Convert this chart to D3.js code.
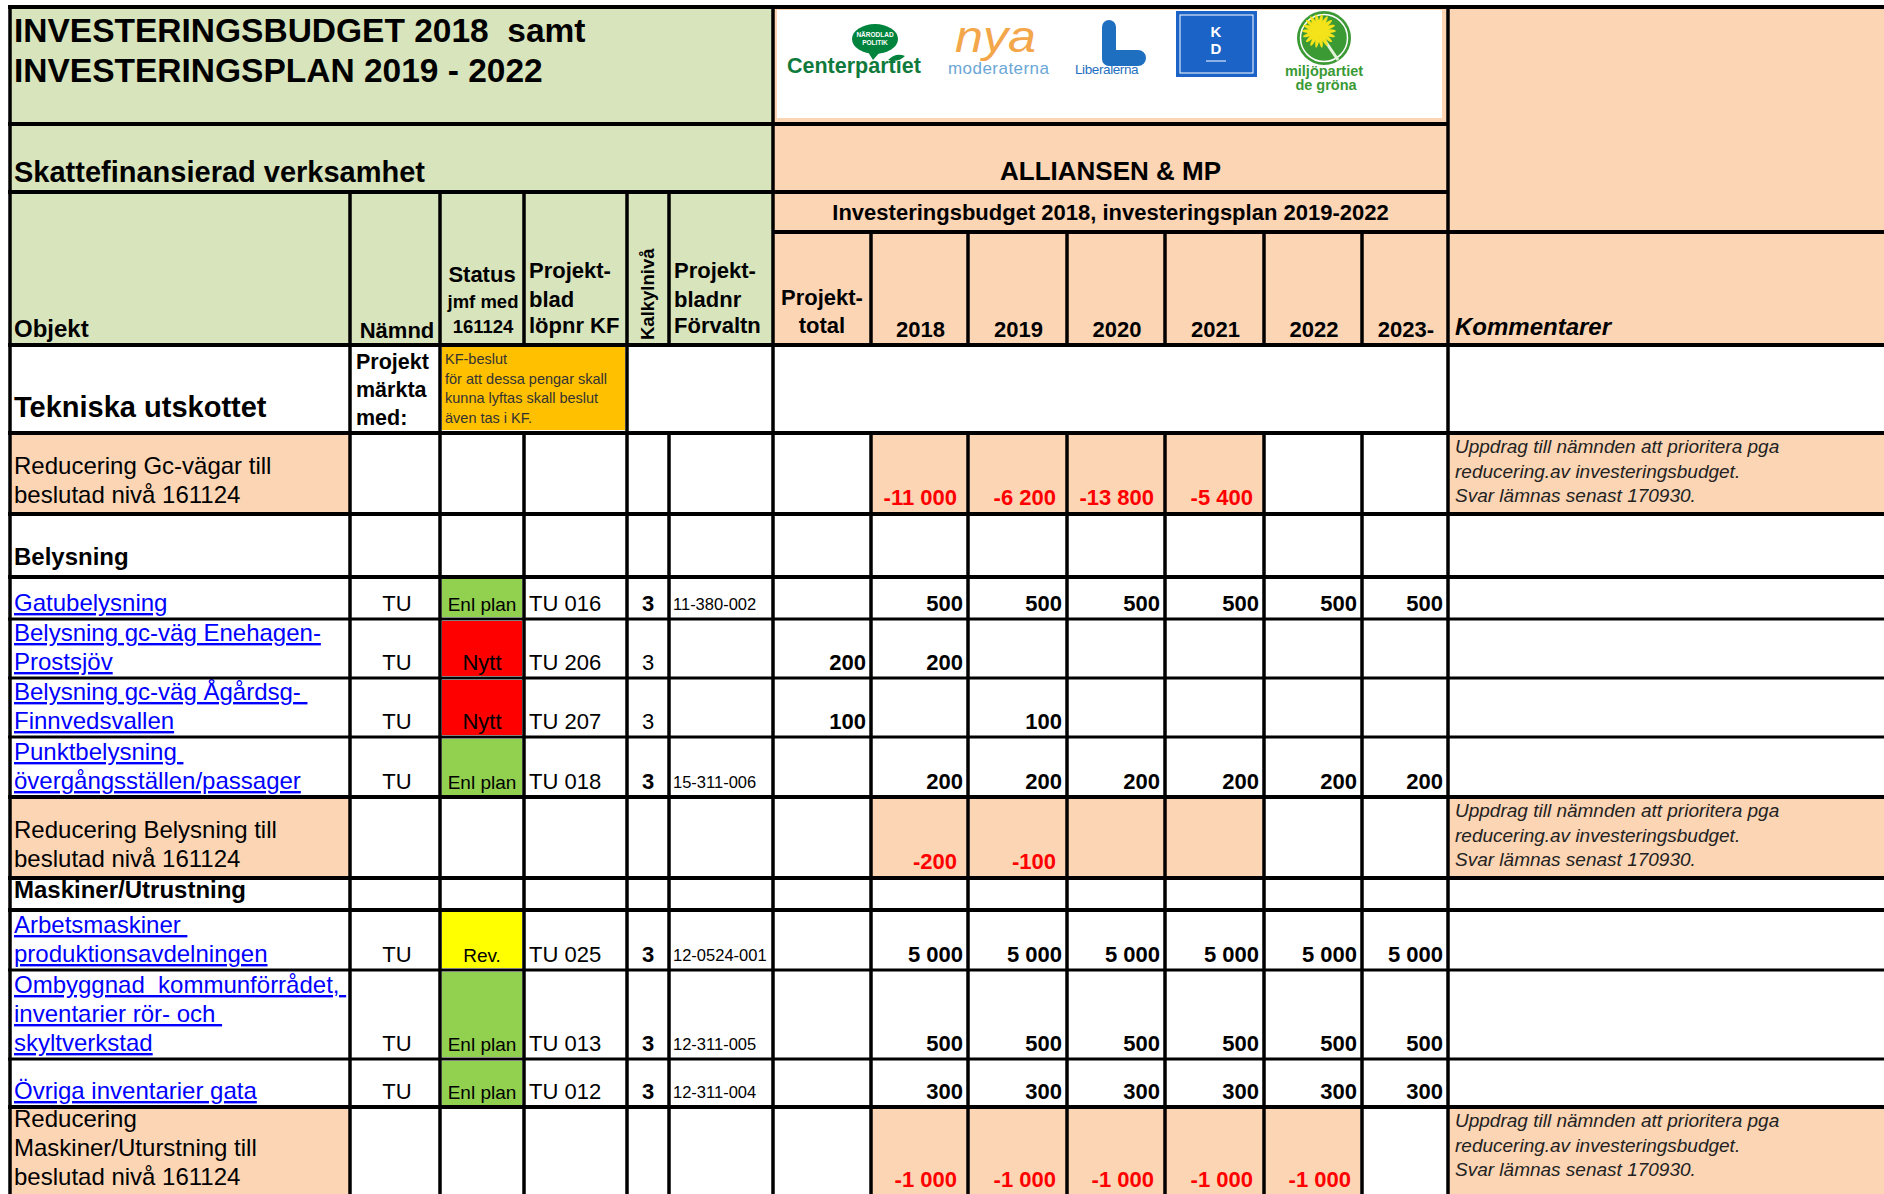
<!DOCTYPE html>
<html>
<head>
<meta charset="utf-8">
<style>
  body { margin: 0; background: #fff; }
  svg text { font-family: "Liberation Sans", Arial, sans-serif; white-space: pre; }
</style>
</head>
<body>
<script src="https://d3js.org/d3.v7.min.js"></script>
<script>
// ---- values ----
var years = ["2018", "2019", "2020", "2021", "2022", "2023-"];

var rowKind = ["utskott", "reduktion", "rubrik", "projekt", "projekt", "projekt", "projekt",
               "reduktion", "rubrik", "projekt", "projekt", "projekt", "reduktion"];

var objekt = [
  ["Tekniska utskottet"],
  ["Reducering Gc-vägar till", "beslutad nivå 161124"],
  ["Belysning"],
  ["Gatubelysning"],
  ["Belysning gc-väg Enehagen-", "Prostsjöv"],
  ["Belysning gc-väg Ågårdsg- ", "Finnvedsvallen"],
  ["Punktbelysning ", "övergångsställen/passager"],
  ["Reducering Belysning till", "beslutad nivå 161124"],
  ["Maskiner/Utrustning"],
  ["Arbetsmaskiner ", "produktionsavdelningen"],
  ["Ombyggnad  kommunförrådet, ", "inventarier rör- och ", "skyltverkstad"],
  ["Övriga inventarier gata"],
  ["Reducering", "Maskiner/Uturstning till", "beslutad nivå 161124"]
];

var namnd      = ["", "", "", "TU", "TU", "TU", "TU", "", "", "TU", "TU", "TU", ""];
var statusText = [null, null, null, "Enl plan", "Nytt", "Nytt", "Enl plan", null, null, "Rev.", "Enl plan", "Enl plan", null];
var bladLopnr  = ["", "", "", "TU 016", "TU 206", "TU 207", "TU 018", "", "", "TU 025", "TU 013", "TU 012", ""];
var kalkyl     = [null, null, null, 3, 3, 3, 3, null, null, 3, 3, 3, null];
var kalkylFet  = [false, false, false, true, false, false, true, false, false, true, true, true, false];
var bladnr     = ["", "", "", "11-380-002", "", "", "15-311-006", "", "", "12-0524-001", "12-311-005", "12-311-004", ""];
var projekttotal = [null, null, null, null, 200, 100, null, null, null, null, null, null, null];

var v2018 = [null, -11000, null, 500, 200, null, 200, -200, null, 5000, 500, 300, -1000];
var v2019 = [null, -6200, null, 500, null, 100, 200, -100, null, 5000, 500, 300, -1000];
var v2020 = [null, -13800, null, 500, null, null, 200, null, null, 5000, 500, 300, -1000];
var v2021 = [null, -5400, null, 500, null, null, 200, null, null, 5000, 500, 300, -1000];
var v2022 = [null, null, null, 500, null, null, 200, null, null, 5000, 500, 300, -1000];
var v2023 = [null, null, null, 500, null, null, 200, null, null, 5000, 500, 300, null];
var yearValues = [v2018, v2019, v2020, v2021, v2022, v2023];

// how many year cells are shaded on a reduction row
var reduktionSpan = [0, 4, 0, 0, 0, 0, 0, 4, 0, 0, 0, 0, 5];

var kommentar = ["Uppdrag till nämnden att prioritera pga", "reducering.av investeringsbudget.", "Svar lämnas senast 170930."];
var kfNote = ["KF-beslut", "för att dessa pengar skall", "kunna lyftas skall beslut", "även tas i KF."];

// ---- sheet layout ----
var W = 1884, H = 1194;
var GREEN = "#d8e4bc", PEACH = "#fcd5b4";
var statusColor = {"Enl plan": "#92d050", "Nytt": "#ff0000", "Rev.": "#ffff00"};
var statusSize = {"Enl plan": 19, "Nytt": 22, "Rev.": 19};

var colKeys = ["objekt", "namnd", "status", "blad", "kalkyl", "bladnr", "total"].concat(years).concat(["komm"]);
var colEdges = [10, 350, 440, 524, 627, 669, 773, 871, 968, 1067, 1165, 1264, 1362, 1448, 1884];
var colX = d3.scaleOrdinal(colKeys, colEdges.slice(0, -1));
var colR = d3.scaleOrdinal(colKeys, colEdges.slice(1));
var colMid = function(k) { return (colX(k) + colR(k)) / 2; };

var rowIdx = d3.range(objekt.length);
var rowEdges = [345, 433, 514, 577, 619, 678, 737, 797, 878, 910, 970, 1059, 1107, 1196];
var rowTop = d3.scaleOrdinal(rowIdx, rowEdges.slice(0, -1));
var rowBot = d3.scaleOrdinal(rowIdx, rowEdges.slice(1));

var locale = d3.formatLocale({decimal: ",", thousands: " ", grouping: [3], currency: ["", ""], minus: "-"});
var fmt = locale.format(",d");

var svg = d3.select("body").append("svg")
    .attr("width", W).attr("height", H).style("display", "block");

svg.append("rect").attr("width", W).attr("height", H).attr("fill", "#fff");

function label(x, y, s, o) {
  o = o || {};
  return svg.append("text")
    .attr("x", x).attr("y", y)
    .attr("font-size", o.size || 22)
    .attr("font-weight", o.bold ? "bold" : null)
    .attr("font-style", o.italic ? "italic" : null)
    .attr("text-anchor", o.anchor || "start")
    .attr("fill", o.fill || "#000")
    .attr("text-decoration", o.underline ? "underline" : null)
    .text(s);
}
function box(x1, y1, x2, y2, fill) {
  svg.append("rect").attr("x", x1).attr("y", y1).attr("width", x2 - x1).attr("height", y2 - y1).attr("fill", fill);
}

// ---- header backgrounds ----
box(10, 7, colX("total"), 345, GREEN);
box(colX("total"), 7, W, 345, PEACH);
box(777, 10, 1442, 118, "#fff");

// title block
label(14, 42, "INVESTERINGSBUDGET 2018  samt", {size: 33.5, bold: true});
label(14, 82, "INVESTERINGSPLAN 2019 - 2022", {size: 33.5, bold: true});
label(14, 182, "Skattefinansierad verksamhet", {size: 29, bold: true});

var rightMid = (colX("total") + colX("komm")) / 2;
label(rightMid, 180, "ALLIANSEN & MP", {size: 26, bold: true, anchor: "middle"});
label(rightMid, 220, "Investeringsbudget 2018, investeringsplan 2019-2022", {size: 22, bold: true, anchor: "middle"});

// column headers
label(14, 337, "Objekt", {size: 24, bold: true});
label(colMid("namnd") + 2, 338, "Nämnd", {size: 22, bold: true, anchor: "middle"});
label(colMid("status"), 282, "Status", {size: 22, bold: true, anchor: "middle"});
label(colMid("status") + 1, 308, "jmf med", {size: 18.5, bold: true, anchor: "middle"});
label(colMid("status") + 1, 333, "161124", {size: 18.5, bold: true, anchor: "middle"});
["Projekt-", "blad", "löpnr KF"].forEach(function(s, i) {
  label(colX("blad") + 5, [278, 307, 333][i], s, {size: 22, bold: true});
});
["Projekt-", "bladnr", "Förvaltn"].forEach(function(s, i) {
  label(colX("bladnr") + 5, [278, 307, 333][i], s, {size: 22, bold: true});
});
svg.append("text")
  .attr("transform", "translate(" + (colX("kalkyl") + 27) + ",340) rotate(-90)")
  .attr("font-size", 18.5).attr("font-weight", "bold").text("Kalkylnivå");
label(colMid("total"), 305, "Projekt-", {size: 22, bold: true, anchor: "middle"});
label(colMid("total"), 333, "total", {size: 22, bold: true, anchor: "middle"});
years.forEach(function(y) {
  label(colMid(y) + 1, 337, y, {size: 22, bold: true, anchor: "middle"});
});
label(colX("komm") + 7, 335, "Kommentarer", {size: 24, bold: true, italic: true});

// ---- party logos ----
var logo = svg.append("g");
// Centerpartiet
logo.append("ellipse").attr("cx", 875).attr("cy", 39).attr("rx", 23).attr("ry", 15).attr("fill", "#00843d");
logo.append("path").attr("d", "M868,52 L873,60 L880,52 Z").attr("fill", "#00843d");
logo.append("path").attr("d", "M888,60 Q896,52 905,56 Q898,63 888,60 Z").attr("fill", "#00843d");
logo.append("text").attr("x", 875).attr("y", 37).attr("text-anchor", "middle").attr("font-size", 6.5)
  .attr("font-weight", "bold").attr("fill", "#fff").text("NÄRODLAD");
logo.append("text").attr("x", 875).attr("y", 45).attr("text-anchor", "middle").attr("font-size", 6.5)
  .attr("font-weight", "bold").attr("fill", "#fff").text("POLITIK");
logo.append("text").attr("x", 787).attr("y", 73).attr("font-size", 21.5).attr("font-weight", "bold")
  .attr("fill", "#0f7a3c").text("Centerpartiet");
// Moderaterna
logo.append("text").attr("x", 955).attr("y", 52).attr("font-size", 44).attr("font-style", "italic")
  .attr("textLength", 81).attr("lengthAdjust", "spacingAndGlyphs")
  .attr("font-family", "Liberation Serif, serif").attr("fill", "#f3a64a").text("nya");
logo.append("text").attr("x", 948).attr("y", 74).attr("font-size", 17).attr("textLength", 101)
  .attr("font-family", "Liberation Serif, serif").attr("fill", "#6aa6d6").text("moderaterna");
// Liberalerna
logo.append("path")
  .attr("d", "M1109,20 a7,7 0 0 1 7,7 V50 H1138 a8,8 0 0 1 0,16 H1109 a7,7 0 0 1 -7,-7 V27 a7,7 0 0 1 7,-7 Z")
  .attr("fill", "#1f6fc0");
logo.append("text").attr("x", 1075).attr("y", 74).attr("font-size", 13.5).attr("letter-spacing", -0.4)
  .attr("fill", "#1f6fc0").text("Liberalerna");
// KD
logo.append("rect").attr("x", 1176).attr("y", 11).attr("width", 81).attr("height", 66).attr("fill", "#1b63c6");
logo.append("rect").attr("x", 1180).attr("y", 15).attr("width", 73).attr("height", 58).attr("fill", "none")
  .attr("stroke", "#fff").attr("stroke-width", 1);
logo.append("text").attr("x", 1216).attr("y", 37).attr("text-anchor", "middle").attr("font-size", 15)
  .attr("font-weight", "bold").attr("fill", "#fff").text("K");
logo.append("text").attr("x", 1216).attr("y", 54).attr("text-anchor", "middle").attr("font-size", 15)
  .attr("font-weight", "bold").attr("fill", "#fff").text("D");
logo.append("line").attr("x1", 1206).attr("x2", 1226).attr("y1", 61).attr("y2", 61).attr("stroke", "#fff");
// Miljöpartiet
var mpX = 1324, mpY = 38;
logo.append("circle").attr("cx", mpX).attr("cy", mpY).attr("r", 27).attr("fill", "#3c9a34");
logo.append("circle").attr("cx", mpX).attr("cy", mpY).attr("r", 23.5).attr("fill", "none")
  .attr("stroke", "#fff").attr("stroke-width", 1.5);
logo.append("path").attr("d", "M" + (mpX - 3) + "," + (mpY - 3) + " Q" + (mpX + 6) + "," + (mpY + 10) + " " + (mpX + 14) + "," + (mpY + 22))
  .attr("fill", "none").attr("stroke", "#e4f3d8").attr("stroke-width", 3);
d3.range(0, 360, 20).forEach(function(a) {
  logo.append("ellipse").attr("cx", mpX - 5).attr("cy", mpY - 7).attr("rx", 10).attr("ry", 2)
    .attr("transform", "rotate(" + a + "," + (mpX - 5) + "," + (mpY - 7) + ") translate(7,0)").attr("fill", "#f4e21a");
});
logo.append("circle").attr("cx", mpX - 5).attr("cy", mpY - 7).attr("r", 4.5).attr("fill", "#f4e21a");
logo.append("text").attr("x", mpX).attr("y", 76).attr("text-anchor", "middle").attr("font-size", 14.5)
  .attr("font-weight", "bold").attr("fill", "#3a9a35").text("miljöpartiet");
logo.append("text").attr("x", mpX + 2).attr("y", 90).attr("text-anchor", "middle").attr("font-size", 14.5)
  .attr("font-weight", "bold").attr("fill", "#3a9a35").text("de gröna");

// ---- body rows ----
rowIdx.forEach(function(i) {
  var top = rowTop(i), bot = rowBot(i), kind = rowKind[i];

  if (kind === "utskott") {
    label(14, bot - 16, objekt[i][0], {size: 29, bold: true});
    ["Projekt", "märkta", "med:"].forEach(function(s, j) {
      label(colX("namnd") + 6, top + 24 + j * 28, s, {size: 21.5, bold: true});
    });
    box(colX("status") + 2, top + 2, colX("kalkyl") - 2, bot - 3, "#ffc000");
    kfNote.forEach(function(s, j) {
      label(colX("status") + 5, top + 19 + j * 19.5, s, {size: 14.5, fill: "#333"});
    });
    return;
  }

  if (kind === "reduktion") {
    box(colX("objekt"), top, colR("objekt"), bot, PEACH);
    years.slice(0, reduktionSpan[i]).forEach(function(y) { box(colX(y), top, colR(y), bot, PEACH); });
    box(colX("komm"), top, colR("komm"), bot, PEACH);
    kommentar.forEach(function(s, j) {
      label(colX("komm") + 7, top + 20 + j * 24.5, s, {size: 19, italic: true, fill: "#222"});
    });
  }

  var st = statusText[i];
  if (st) box(colX("status") + 2, top + 2, colR("status") - 2, bot - 2, statusColor[st]);

  var off = kind === "projekt" ? 8 : 11;
  var lines = objekt[i];
  lines.forEach(function(s, j) {
    var y = bot - off - (lines.length - 1 - j) * 29;
    if (kind === "rubrik") label(14, bot - 12, s, {size: 24, bold: true});
    else if (kind === "projekt") label(14, y, s, {size: 24, fill: "#0000ff", underline: true});
    else label(14, y, s, {size: 24});
  });

  var base = bot - 8;
  if (namnd[i]) label(colMid("namnd") + 2, base, namnd[i], {size: 22, anchor: "middle"});
  if (st) label(colMid("status"), base, st, {size: statusSize[st], anchor: "middle"});
  if (bladLopnr[i]) label(colX("blad") + 5, base, bladLopnr[i], {size: 22});
  if (kalkyl[i] != null) label(colMid("kalkyl"), base, kalkyl[i], {size: 22, bold: kalkylFet[i], anchor: "middle"});
  if (bladnr[i]) label(colX("bladnr") + 4, base - 1, bladnr[i], {size: 16.5});
  if (projekttotal[i] != null) label(colR("total") - 5, base, fmt(projekttotal[i]), {size: 22, bold: true, anchor: "end"});

  years.forEach(function(y, k) {
    var v = yearValues[k][i];
    if (v == null) return;
    var neg = v < 0;
    label(colR(y) - (neg ? 11 : 5), bot - (neg ? 9 : 8), fmt(v),
      {size: 22, bold: true, anchor: "end", fill: neg ? "#ff0000" : "#000"});
  });
});

// ---- grid lines ----
var hLines = [
  [7, 8, W, 4], [124, 8, colX("komm"), 4], [192, 8, colX("komm"), 4],
  [232, colX("total"), W, 4], [345, 8, W, 4]
];
var thin = [false, false, false, true, true, true, false, false, false, true, true, false];
rowEdges.slice(1, -1).forEach(function(y, j) { hLines.push([y, 8, W, thin[j] ? 3 : 4]); });

svg.append("g").selectAll("line").data(hLines).join("line")
  .attr("x1", function(d) { return d[1]; }).attr("x2", function(d) { return d[2]; })
  .attr("y1", function(d) { return d[0]; }).attr("y2", function(d) { return d[0]; })
  .attr("stroke", "#000").attr("stroke-width", function(d) { return d[3]; });

var tekTop = rowTop(0), tekBot = rowBot(0);
var vLines = [[10, 5, H], [colX("total"), 5, H], [colX("komm"), 5, H]];
["namnd", "status", "kalkyl"].forEach(function(k) { vLines.push([colX(k), 192, H]); });
["blad", "bladnr"].forEach(function(k) {
  vLines.push([colX(k), 192, tekTop]); vLines.push([colX(k), tekBot, H]);
});
years.forEach(function(y) {
  vLines.push([colX(y), 232, tekTop]); vLines.push([colX(y), tekBot, H]);
});

svg.append("g").selectAll("line").data(vLines).join("line")
  .attr("x1", function(d) { return d[0]; }).attr("x2", function(d) { return d[0]; })
  .attr("y1", function(d) { return d[1]; }).attr("y2", function(d) { return d[2]; })
  .attr("stroke", "#000").attr("stroke-width", 3.5);
</script>
</body>
</html>
